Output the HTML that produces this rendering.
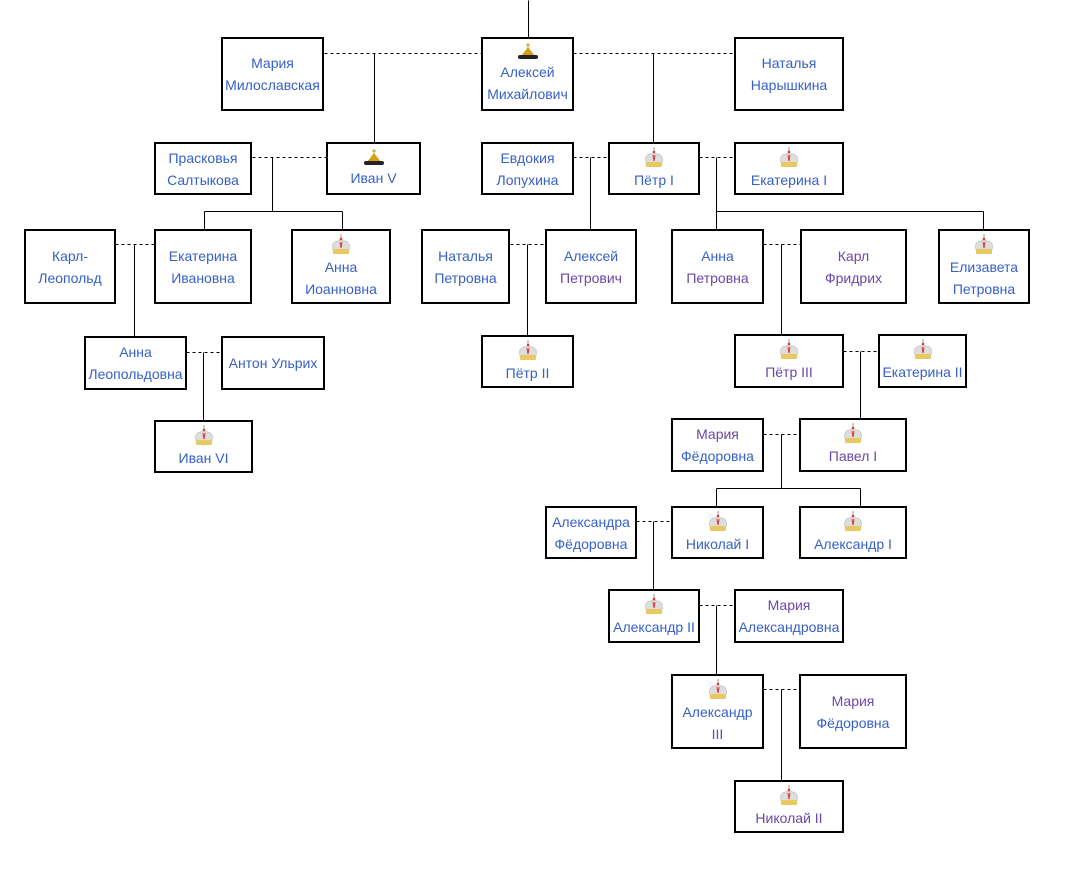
<!DOCTYPE html>
<html><head><meta charset="utf-8"><style>
body{margin:0;background:#fff;width:1073px;height:875px;position:relative;overflow:hidden;font-family:"Liberation Sans",sans-serif;}
.b{position:absolute;box-sizing:border-box;border:2px solid #000;background:#fff;display:flex;flex-direction:column;align-items:center;justify-content:center;text-align:center;font-size:14px;line-height:22px;color:#3660c8;}
.p{color:#6a47a8;}
.b svg{display:block;margin-bottom:0px;}
svg.l{position:absolute;left:0;top:0;}
</style></head><body>
<svg class="l" width="1073" height="875" stroke="#000" stroke-width="1" fill="none" shape-rendering="crispEdges"><g transform="translate(0.5,0.5)">
<line x1="528" y1="0" x2="528" y2="38"/>
<g stroke-dasharray="3,3">
<line x1="324" y1="53" x2="481" y2="53"/><line x1="573" y1="53" x2="734" y2="53"/>
<line x1="252" y1="157" x2="326" y2="157"/><line x1="573" y1="157" x2="608" y2="157"/><line x1="699" y1="157" x2="734" y2="157"/>
<line x1="115" y1="244" x2="154" y2="244"/><line x1="510" y1="244" x2="545" y2="244"/><line x1="763" y1="244" x2="800" y2="244"/>
<line x1="186" y1="352" x2="221" y2="352"/><line x1="843" y1="351" x2="878" y2="351"/>
<line x1="763" y1="434" x2="799" y2="434"/><line x1="636" y1="521" x2="671" y2="521"/>
<line x1="699" y1="605" x2="734" y2="605"/><line x1="763" y1="689" x2="799" y2="689"/>
</g>
<line x1="374" y1="53" x2="374" y2="142"/><line x1="653" y1="53" x2="653" y2="142"/>
<line x1="272" y1="157" x2="272" y2="211"/><line x1="204" y1="211" x2="342" y2="211"/><line x1="204" y1="211" x2="204" y2="229"/><line x1="342" y1="211" x2="342" y2="229"/>
<line x1="590" y1="157" x2="590" y2="229"/>
<line x1="716" y1="157" x2="716" y2="229"/><line x1="716" y1="211" x2="983" y2="211"/><line x1="983" y1="211" x2="983" y2="229"/>
<line x1="134" y1="244" x2="134" y2="336"/><line x1="527" y1="244" x2="527" y2="336"/><line x1="781" y1="244" x2="781" y2="334"/>
<line x1="203" y1="352" x2="203" y2="420"/><line x1="860" y1="351" x2="860" y2="420"/>
<line x1="781" y1="434" x2="781" y2="488"/><line x1="716" y1="488" x2="860" y2="488"/><line x1="716" y1="488" x2="716" y2="506"/><line x1="860" y1="488" x2="860" y2="506"/>
<line x1="653" y1="521" x2="653" y2="589"/><line x1="716" y1="605" x2="716" y2="674"/><line x1="781" y1="689" x2="781" y2="780"/>
</g></svg>

<div class="b" style="left:221px;top:37px;width:103px;height:74px">Мария<br>Милославская</div>
<div class="b" style="left:481px;top:37px;width:93px;height:74px"><svg width="24" height="18"><path d="M12 0v5M10 2h4" stroke="#c90"/><path d="M5 13L12 4L19 13Z" fill="#d4a017"/><rect x="2" y="12" width="20" height="4" rx="2" fill="#222"/></svg>Алексей<br>Михайлович</div>
<div class="b" style="left:734px;top:37px;width:110px;height:74px">Наталья<br>Нарышкина</div>

<div class="b" style="left:154px;top:142px;width:98px;height:53px">Прасковья<br>Салтыкова</div>
<div class="b" style="left:326px;top:142px;width:95px;height:53px"><svg width="24" height="18"><path d="M12 0v5M10 2h4" stroke="#c90"/><path d="M5 13L12 4L19 13Z" fill="#d4a017"/><rect x="2" y="12" width="20" height="4" rx="2" fill="#222"/></svg>Иван V</div>
<div class="b" style="left:481px;top:142px;width:93px;height:53px">Евдокия<br>Лопухина</div>
<div class="b" style="left:608px;top:142px;width:92px;height:53px"><svg width="22" height="22" viewBox="0 0 20 22"><rect x="9" y="0" width="2" height="6" fill="#ccc"/><circle cx="10" cy="5" r="1.3" fill="#e33"/><path d="M2 16Q0 8 6 7Q10 6 14 7Q20 8 18 16Z" fill="#ddd" stroke="#aaa" stroke-width=".5"/><path d="M9 8L10 14L11 8" stroke="#d33" fill="none"/><rect x="2" y="15" width="16" height="5" rx="1" fill="#e8c860"/></svg>Пётр I</div>
<div class="b" style="left:734px;top:142px;width:110px;height:53px"><svg width="22" height="22" viewBox="0 0 20 22"><rect x="9" y="0" width="2" height="6" fill="#ccc"/><circle cx="10" cy="5" r="1.3" fill="#e33"/><path d="M2 16Q0 8 6 7Q10 6 14 7Q20 8 18 16Z" fill="#ddd" stroke="#aaa" stroke-width=".5"/><path d="M9 8L10 14L11 8" stroke="#d33" fill="none"/><rect x="2" y="15" width="16" height="5" rx="1" fill="#e8c860"/></svg>Екатерина I</div>

<div class="b" style="left:24px;top:229px;width:92px;height:75px">Карл-<br>Леопольд</div>
<div class="b" style="left:154px;top:229px;width:98px;height:75px">Екатерина<br>Ивановна</div>
<div class="b" style="left:291px;top:229px;width:100px;height:75px"><svg width="22" height="22" viewBox="0 0 20 22"><rect x="9" y="0" width="2" height="6" fill="#ccc"/><circle cx="10" cy="5" r="1.3" fill="#e33"/><path d="M2 16Q0 8 6 7Q10 6 14 7Q20 8 18 16Z" fill="#ddd" stroke="#aaa" stroke-width=".5"/><path d="M9 8L10 14L11 8" stroke="#d33" fill="none"/><rect x="2" y="15" width="16" height="5" rx="1" fill="#e8c860"/></svg>Анна<br>Иоанновна</div>
<div class="b" style="left:421px;top:229px;width:89px;height:75px">Наталья<br>Петровна</div>
<div class="b" style="left:545px;top:229px;width:92px;height:75px">Алексей<br><span class="p">Петрович</span></div>
<div class="b" style="left:671px;top:229px;width:93px;height:75px">Анна<br><span class="p">Петровна</span></div>
<div class="b p" style="left:800px;top:229px;width:107px;height:75px">Карл<br>Фридрих</div>
<div class="b" style="left:938px;top:229px;width:92px;height:75px"><svg width="22" height="22" viewBox="0 0 20 22"><rect x="9" y="0" width="2" height="6" fill="#ccc"/><circle cx="10" cy="5" r="1.3" fill="#e33"/><path d="M2 16Q0 8 6 7Q10 6 14 7Q20 8 18 16Z" fill="#ddd" stroke="#aaa" stroke-width=".5"/><path d="M9 8L10 14L11 8" stroke="#d33" fill="none"/><rect x="2" y="15" width="16" height="5" rx="1" fill="#e8c860"/></svg>Елизавета<br>Петровна</div>

<div class="b" style="left:84px;top:336px;width:103px;height:54px">Анна<br>Леопольдовна</div>
<div class="b" style="left:221px;top:336px;width:104px;height:54px">Антон Ульрих</div>
<div class="b" style="left:481px;top:335px;width:93px;height:53px"><svg width="22" height="22" viewBox="0 0 20 22"><rect x="9" y="0" width="2" height="6" fill="#ccc"/><circle cx="10" cy="5" r="1.3" fill="#e33"/><path d="M2 16Q0 8 6 7Q10 6 14 7Q20 8 18 16Z" fill="#ddd" stroke="#aaa" stroke-width=".5"/><path d="M9 8L10 14L11 8" stroke="#d33" fill="none"/><rect x="2" y="15" width="16" height="5" rx="1" fill="#e8c860"/></svg>Пётр II</div>
<div class="b p" style="left:734px;top:334px;width:110px;height:54px"><svg width="22" height="22" viewBox="0 0 20 22"><rect x="9" y="0" width="2" height="6" fill="#ccc"/><circle cx="10" cy="5" r="1.3" fill="#e33"/><path d="M2 16Q0 8 6 7Q10 6 14 7Q20 8 18 16Z" fill="#ddd" stroke="#aaa" stroke-width=".5"/><path d="M9 8L10 14L11 8" stroke="#d33" fill="none"/><rect x="2" y="15" width="16" height="5" rx="1" fill="#e8c860"/></svg>Пётр III</div>
<div class="b" style="left:878px;top:334px;width:89px;height:54px"><svg width="22" height="22" viewBox="0 0 20 22"><rect x="9" y="0" width="2" height="6" fill="#ccc"/><circle cx="10" cy="5" r="1.3" fill="#e33"/><path d="M2 16Q0 8 6 7Q10 6 14 7Q20 8 18 16Z" fill="#ddd" stroke="#aaa" stroke-width=".5"/><path d="M9 8L10 14L11 8" stroke="#d33" fill="none"/><rect x="2" y="15" width="16" height="5" rx="1" fill="#e8c860"/></svg>Екатерина II</div>

<div class="b" style="left:154px;top:420px;width:99px;height:53px"><svg width="22" height="22" viewBox="0 0 20 22"><rect x="9" y="0" width="2" height="6" fill="#ccc"/><circle cx="10" cy="5" r="1.3" fill="#e33"/><path d="M2 16Q0 8 6 7Q10 6 14 7Q20 8 18 16Z" fill="#ddd" stroke="#aaa" stroke-width=".5"/><path d="M9 8L10 14L11 8" stroke="#d33" fill="none"/><rect x="2" y="15" width="16" height="5" rx="1" fill="#e8c860"/></svg>Иван VI</div>
<div class="b" style="left:671px;top:418px;width:93px;height:54px"><span class="p">Мария</span>Фёдоровна</div>
<div class="b p" style="left:799px;top:418px;width:108px;height:54px"><svg width="22" height="22" viewBox="0 0 20 22"><rect x="9" y="0" width="2" height="6" fill="#ccc"/><circle cx="10" cy="5" r="1.3" fill="#e33"/><path d="M2 16Q0 8 6 7Q10 6 14 7Q20 8 18 16Z" fill="#ddd" stroke="#aaa" stroke-width=".5"/><path d="M9 8L10 14L11 8" stroke="#d33" fill="none"/><rect x="2" y="15" width="16" height="5" rx="1" fill="#e8c860"/></svg>Павел I</div>

<div class="b" style="left:545px;top:506px;width:92px;height:53px">Александра<br>Фёдоровна</div>
<div class="b" style="left:671px;top:506px;width:93px;height:53px"><svg width="22" height="22" viewBox="0 0 20 22"><rect x="9" y="0" width="2" height="6" fill="#ccc"/><circle cx="10" cy="5" r="1.3" fill="#e33"/><path d="M2 16Q0 8 6 7Q10 6 14 7Q20 8 18 16Z" fill="#ddd" stroke="#aaa" stroke-width=".5"/><path d="M9 8L10 14L11 8" stroke="#d33" fill="none"/><rect x="2" y="15" width="16" height="5" rx="1" fill="#e8c860"/></svg>Николай I</div>
<div class="b" style="left:799px;top:506px;width:108px;height:53px"><svg width="22" height="22" viewBox="0 0 20 22"><rect x="9" y="0" width="2" height="6" fill="#ccc"/><circle cx="10" cy="5" r="1.3" fill="#e33"/><path d="M2 16Q0 8 6 7Q10 6 14 7Q20 8 18 16Z" fill="#ddd" stroke="#aaa" stroke-width=".5"/><path d="M9 8L10 14L11 8" stroke="#d33" fill="none"/><rect x="2" y="15" width="16" height="5" rx="1" fill="#e8c860"/></svg>Александр I</div>

<div class="b" style="left:608px;top:589px;width:92px;height:54px"><svg width="22" height="22" viewBox="0 0 20 22"><rect x="9" y="0" width="2" height="6" fill="#ccc"/><circle cx="10" cy="5" r="1.3" fill="#e33"/><path d="M2 16Q0 8 6 7Q10 6 14 7Q20 8 18 16Z" fill="#ddd" stroke="#aaa" stroke-width=".5"/><path d="M9 8L10 14L11 8" stroke="#d33" fill="none"/><rect x="2" y="15" width="16" height="5" rx="1" fill="#e8c860"/></svg>Александр II</div>
<div class="b" style="left:734px;top:589px;width:110px;height:54px"><span class="p">Мария</span>Александровна</div>

<div class="b" style="left:671px;top:674px;width:93px;height:75px"><svg width="22" height="22" viewBox="0 0 20 22"><rect x="9" y="0" width="2" height="6" fill="#ccc"/><circle cx="10" cy="5" r="1.3" fill="#e33"/><path d="M2 16Q0 8 6 7Q10 6 14 7Q20 8 18 16Z" fill="#ddd" stroke="#aaa" stroke-width=".5"/><path d="M9 8L10 14L11 8" stroke="#d33" fill="none"/><rect x="2" y="15" width="16" height="5" rx="1" fill="#e8c860"/></svg>Александр<br><span class="p">III</span></div>
<div class="b" style="left:799px;top:674px;width:108px;height:75px"><span class="p">Мария</span>Фёдоровна</div>

<div class="b p" style="left:734px;top:780px;width:110px;height:53px"><svg width="22" height="22" viewBox="0 0 20 22"><rect x="9" y="0" width="2" height="6" fill="#ccc"/><circle cx="10" cy="5" r="1.3" fill="#e33"/><path d="M2 16Q0 8 6 7Q10 6 14 7Q20 8 18 16Z" fill="#ddd" stroke="#aaa" stroke-width=".5"/><path d="M9 8L10 14L11 8" stroke="#d33" fill="none"/><rect x="2" y="15" width="16" height="5" rx="1" fill="#e8c860"/></svg>Николай II</div>
</body></html>
